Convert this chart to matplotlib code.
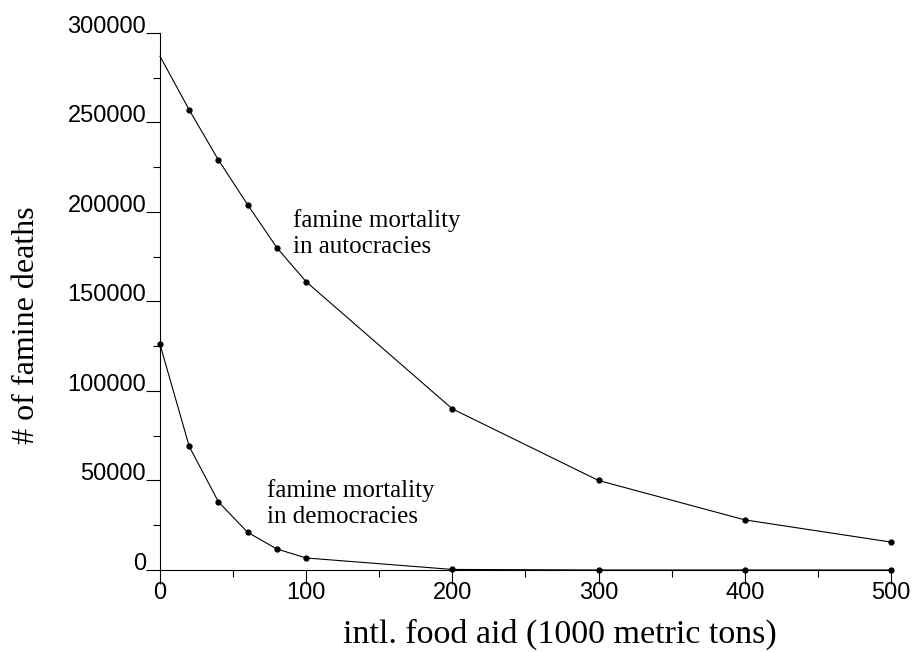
import matplotlib.pyplot as plt
from matplotlib.ticker import MultipleLocator

# food aid levels (1000 metric tons)
food_aid = [0, 20, 40, 60, 80, 100, 200, 300, 400, 500]

# famine deaths
autocracies = [287000, 257000, 229000, 204000, 180000, 161000, 90000, 50000, 28000, 15600]
democracies = [126000, 69000, 38000, 21000, 11700, 6700, 300, 0, 0, 0]

x_ticks = [0, 100, 200, 300, 400, 500]
y_ticks = [0, 50000, 100000, 150000, 200000, 250000, 300000]

fig = plt.figure(figsize=(9.17, 6.52), dpi=100)
ax = fig.add_axes([0.1745, 0.1258, 0.797, 0.8236])

# autocracy line has no dot at x=0
ax.plot(food_aid, autocracies, color='black', lw=0.8, marker='o', ms=3.5,
        markevery=list(range(1, len(food_aid))), clip_on=False)
ax.plot(food_aid, democracies, color='black', lw=0.8, marker='o', ms=3.5,
        clip_on=False)

ax.set_xlim(0, 500)
ax.set_ylim(0, 300000)

ax.spines['top'].set_visible(False)
ax.spines['right'].set_visible(False)
ax.spines['left'].set_linewidth(0.8)
ax.spines['bottom'].set_linewidth(0.8)

ax.set_xticks(x_ticks)
ax.set_yticks(y_ticks)
ax.xaxis.set_minor_locator(MultipleLocator(50))
ax.yaxis.set_minor_locator(MultipleLocator(25000))
ax.set_xticklabels([str(v) for v in x_ticks], fontfamily='Liberation Sans', fontsize=17)
ax.set_yticklabels([str(v) for v in y_ticks], fontfamily='Liberation Sans', fontsize=17)
for lab in ax.get_yticklabels():
    lab.set_va('baseline')

ax.tick_params(axis='both', which='major', direction='out', length=10, width=0.8, pad=0)
ax.tick_params(axis='both', which='minor', direction='out', length=5, width=0.8)
ax.tick_params(axis='x', which='major', pad=-1)

ax.set_xlabel('intl. food aid (1000 metric tons)', fontfamily='Liberation Serif', fontsize=24.5)
ax.set_ylabel('# of famine deaths', fontfamily='Liberation Serif', fontsize=23)
ax.xaxis.set_label_coords(0.547, -0.091)
ax.yaxis.set_label_coords(-0.163, 0.456)

ax.text(91, 191600, 'famine mortality', fontfamily='Liberation Serif', fontsize=18, va='baseline')
ax.text(91, 177000, 'in autocracies', fontfamily='Liberation Serif', fontsize=18, va='baseline')
ax.text(73, 40800, 'famine mortality', fontfamily='Liberation Serif', fontsize=18, va='baseline')
ax.text(73, 26300, 'in democracies', fontfamily='Liberation Serif', fontsize=18, va='baseline')

fig.savefig('out.png', dpi=100)
